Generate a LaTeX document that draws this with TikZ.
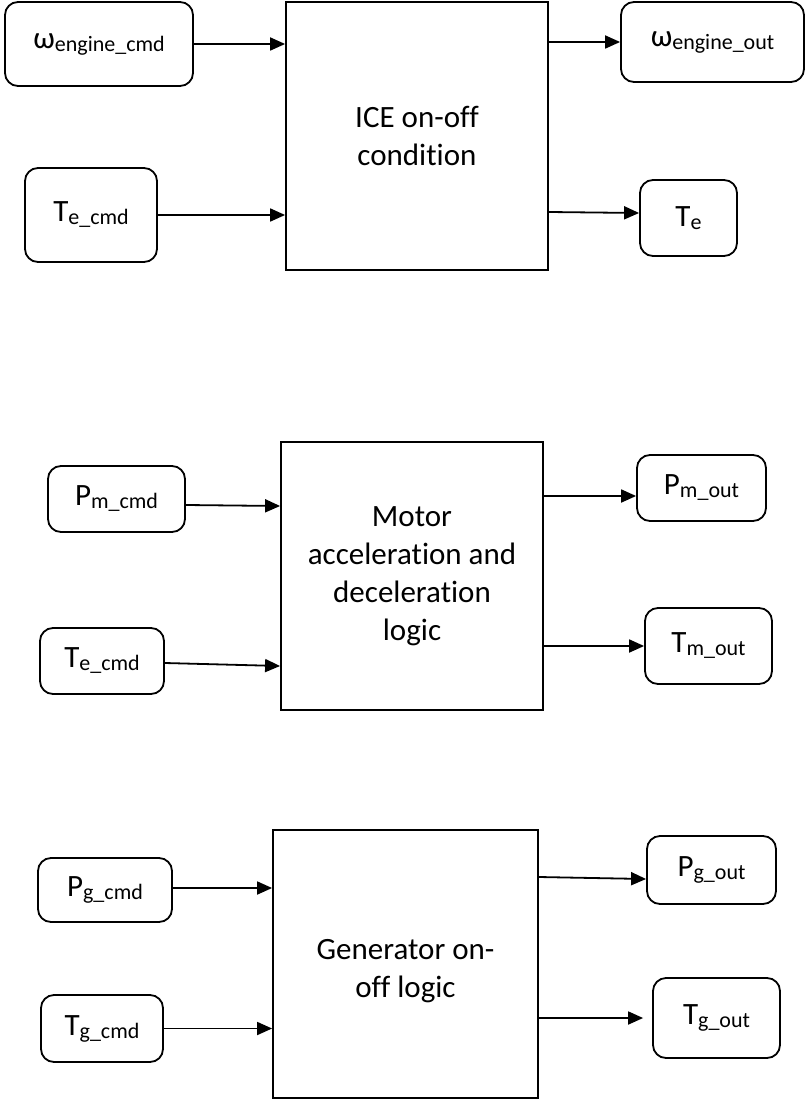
\documentclass[tikz,border=0pt]{standalone}
\usepackage{fontspec}
\setmainfont{Carlito}[Ligatures=NoCommon]
\usepackage{tikz}
\usetikzlibrary{arrows.meta,positioning}
\newcommand{\mainsize}{\fontsize{31}{38}\selectfont}
\newcommand{\subsize}{\fontsize{22}{22}\selectfont}
% signal name with lowered subscript
\newcommand{\signame}[2]{#1\raisebox{-3pt}{\subsize #2}}
\begin{document}
\begin{tikzpicture}[x=1pt,y=-1pt,
    sigbox/.style={draw,rounded corners=13pt,line width=1.8pt,inner sep=0pt,font=\mainsize},
    logicbox/.style={draw,line width=1.8pt,inner sep=0pt,align=center,font=\mainsize,
      minimum width=262pt,minimum height=268pt},
    sigarrow/.style={line width=1.8pt,-{Triangle[length=15pt,width=13pt]}}]
  \useasboundingbox (0,0) rectangle (806,1102);
  % ICE block
  \node[logicbox] (ice) at (417,136) {ICE on-off\\condition};
  \node[sigbox,minimum width=188pt,minimum height=84pt] (wcmd) at (99,44) {\signame{ω}{engine\_cmd}};
  \node[sigbox,minimum width=132pt,minimum height=94pt] (tecmdA) at (91,215) {\signame{T}{e\_cmd}};
  \node[sigbox,minimum width=183pt,minimum height=80pt] (wout) at (712.5,42) {\signame{ω}{engine\_out}};
  \node[sigbox,minimum width=97pt,minimum height=76pt] (te) at (688.5,218) {\signame{T}{e}};
  \draw[sigarrow] (wcmd.east) -- (wcmd.east -| ice.west);
  \draw[sigarrow] (tecmdA.east) -- (tecmdA.east -| ice.west);
  \draw[sigarrow] (ice.east |- wout.west) -- (wout.west);
  \draw[sigarrow] ([yshift=6pt]ice.east |- te.west) -- ([yshift=5pt]te.west);
  % motor block
  \node[logicbox] (motor) at (412,576) {Motor\\acceleration and\\deceleration\\logic};
  \node[sigbox,minimum width=137pt,minimum height=66pt] (pmcmd) at (116.5,499) {\signame{P}{m\_cmd}};
  \node[sigbox,minimum width=124pt,minimum height=66pt] (tecmdB) at (102,661) {\signame{T}{e\_cmd}};
  \node[sigbox,minimum width=129pt,minimum height=66pt] (pmout) at (701.5,488) {\signame{P}{m\_out}};
  \node[sigbox,minimum width=127pt,minimum height=76pt] (tmout) at (708.5,646) {\signame{T}{m\_out}};
  \draw[sigarrow] ([yshift=-6pt]pmcmd.east) -- ([yshift=-7pt]pmcmd.east -| motor.west);
  \draw[sigarrow] ([yshift=-2pt]tecmdB.east) -- ([yshift=-5pt]tecmdB.east -| motor.west);
  \draw[sigarrow] ([yshift=-8pt]motor.east |- pmout.west) -- ([yshift=-8pt]pmout.west);
  \draw[sigarrow] (motor.east |- tmout.west) -- (tmout.west);
  % generator block
  \node[logicbox,minimum width=265pt,
    label={[align=center,font=\mainsize,yshift=-7pt]center:{Generator on-\\off logic}}] (gen) at (405.5,964) {};
  \node[sigbox,minimum width=134pt,minimum height=64pt] (pgcmd) at (105,890) {\signame{P}{g\_cmd}};
  \node[sigbox,minimum width=122pt,minimum height=67pt] (tgcmd) at (102,1028.5) {\signame{T}{g\_cmd}};
  \node[sigbox,minimum width=129pt,minimum height=68pt] (pgout) at (711.5,870) {\signame{P}{g\_out}};
  \node[sigbox,minimum width=127pt,minimum height=80pt] (tgout) at (716.5,1018) {\signame{T}{g\_out}};
  \draw[sigarrow] ([yshift=2pt]pgcmd.east) -- ([yshift=2pt]pgcmd.east -| gen.west);
  \draw[sigarrow] (tgcmd.east) -- (tgcmd.east -| gen.west);
  \draw[sigarrow] ([yshift=-7pt]gen.east |- pgout.west) -- ([yshift=-9pt]pgout.west);
  \draw[sigarrow,shorten >=9pt] (gen.east |- tgout.west) -- (tgout.west);
\end{tikzpicture}
\end{document}
